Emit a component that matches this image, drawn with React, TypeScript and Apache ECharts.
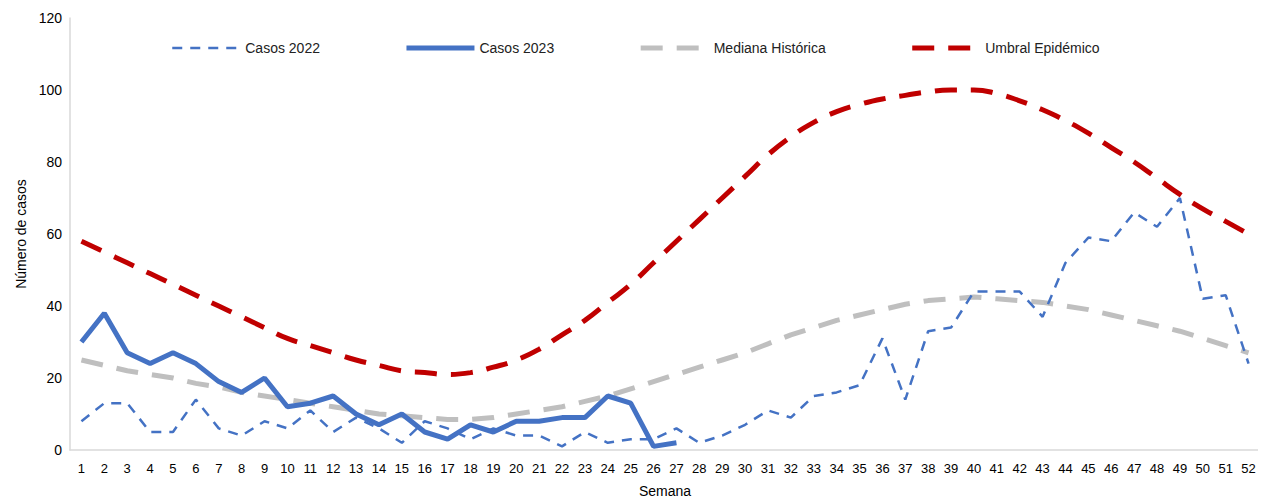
import React, { useEffect, useRef } from "react";
import * as echarts from "echarts";

const weeks = Array.from({ length: 52 }, (_, i) => String(i + 1));
const casos2022 = [8,13,13,5,5,14,6,4,8,6,11,5,9,6,2,8,6,3,6,4,4,1,5,2,3,3,6,2,4,7,11,9,15,16,18,31,14,33,34,44,44,44,37,52,59,58,66,62,70,42,43,24];
const casos2023 = [30,38,27,24,27,24,19,16,20,12,13,15,10,7,10,5,3,7,5,8,8,9,9,15,13,1,2];
const mediana = [25,23.5,22,21,20,18.5,17.5,16,15,14,13,12,11,10,9.5,9,8.5,8.5,9,10,11,12,13.5,15,17,19,21,23,25,27,29.5,32,34,36,37.5,39,40.5,41.5,42,42.5,42,41.5,41,40,39,37.5,36,34.5,33,31,29,27];
const umbral = [58,55,52,49,46,43,40,37,34,31,29,27,25,23.5,22,21.5,21,21.5,23,25,28,32,36,41,46,52,58,64,70,76,82,87,91,94,96,97.5,98.5,99.5,100,100,99,97,94.5,91.5,88,84,80,75.5,71,67,63.5,60];

export default function App() {
  const ref = useRef<HTMLDivElement>(null);
  useEffect(() => {
    const chart = echarts.init(ref.current!, null, { renderer: "svg" });
    const font = "'Liberation Sans', Arial, sans-serif";
    chart.setOption({
      animation: false,
      textStyle: { fontFamily: font },
      grid: { left: 62, right: 6, top: 10, bottom: 48, outerBoundsMode: "none", containLabel: false },
      legend: {
        top: 28, left: 158, itemGap: 84, itemWidth: 68, itemHeight: 14,
        textStyle: { fontSize: 14, color: "#222", fontFamily: font },
        itemStyle: { opacity: 0 },
        data: [
          { name: "Casos 2022", lineStyle: { width: 2.5, type: [10, 8] } },
          { name: "Casos 2023", lineStyle: { width: 5 } },
          { name: "Mediana Histórica", lineStyle: { width: 5, type: [22, 14] } },
          { name: "Umbral Epidémico", lineStyle: { width: 5, type: [22, 14] } },
        ],
      },
      xAxis: {
        type: "category", data: weeks, boundaryGap: true,
        name: "Semana", nameLocation: "middle", nameGap: 34,
        nameTextStyle: { fontSize: 14, color: "#000" },
        axisLine: { lineStyle: { color: "#d9d9d9", width: 1.5 } },
        axisTick: { show: false },
        axisLabel: { color: "#000", fontSize: 13, interval: 0, margin: 12 },
      },
      yAxis: {
        type: "value", min: 0, max: 120, interval: 20,
        name: "Número de casos", nameLocation: "middle", nameGap: 42,
        nameTextStyle: { fontSize: 14, color: "#000" },
        axisLine: { show: true, lineStyle: { color: "#d9d9d9", width: 1.5 } },
        splitLine: { show: false },
        axisLabel: { color: "#000", fontSize: 14 },
      },
      series: [
        { name: "Casos 2022", type: "line", data: casos2022, symbol: "none",
          lineStyle: { color: "#4472c4", width: 2.5, type: [10, 8] }, itemStyle: { color: "#4472c4" } },
        { name: "Casos 2023", type: "line", data: casos2023, symbol: "none",
          lineStyle: { color: "#4472c4", width: 5 }, itemStyle: { color: "#4472c4" } },
        { name: "Mediana Histórica", type: "line", data: mediana, symbol: "none", z: 1,
          lineStyle: { color: "#bfbfbf", width: 5, type: [22, 14] }, itemStyle: { color: "#bfbfbf" } },
        { name: "Umbral Epidémico", type: "line", data: umbral, symbol: "none", smooth: true,
          lineStyle: { color: "#c00000", width: 5, type: [22, 14] }, itemStyle: { color: "#c00000" } },
      ],
    });
    return () => chart.dispose();
  }, []);
  return <div ref={ref} style={{ width: 1258, height: 490 }} />;
}
